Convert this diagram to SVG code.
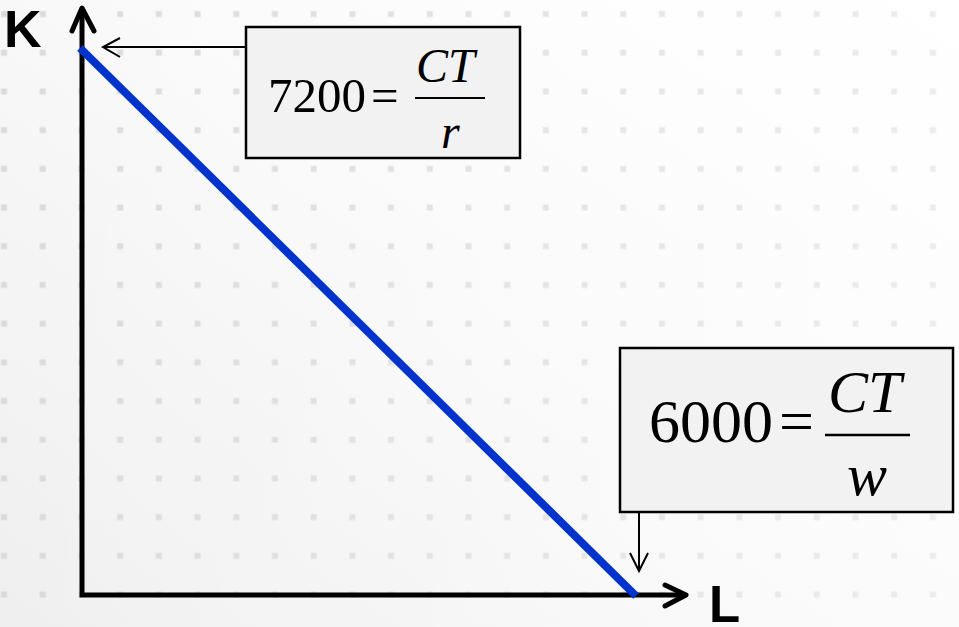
<svg xmlns="http://www.w3.org/2000/svg" width="959" height="627" viewBox="0 0 959 627">
<defs>
<linearGradient id="bg" x1="0" y1="1" x2="1" y2="0">
<stop offset="0" stop-color="#efefef"/>
<stop offset="0.6" stop-color="#fafafa"/>
<stop offset="1" stop-color="#ffffff"/>
</linearGradient>
<linearGradient id="fade" x1="0" y1="0" x2="1" y2="0">
<stop offset="0" stop-color="#ffffff" stop-opacity="0"/>
<stop offset="1" stop-color="#ffffff" stop-opacity="0.5"/>
</linearGradient>
<pattern id="dots" patternUnits="userSpaceOnUse" x="-15.35" y="-5.35" width="38.7" height="38.7">
<rect x="16.4" y="16.4" width="6" height="6" fill="#dadada"/>
</pattern>
<style>
.axis{stroke:#000;stroke-width:5;fill:none;stroke-linecap:butt}
.head{stroke:#000;stroke-width:5;fill:none;stroke-linecap:round;stroke-linejoin:round}
.thin{stroke:#000;stroke-width:2;fill:none}
.box{fill:#f2f2f2;stroke:#000;stroke-width:2.5}
.math{font-family:"Liberation Serif","Times New Roman",serif;fill:#000}
.it{font-style:italic}
.lab{font-family:"Liberation Sans",Arial,sans-serif;font-weight:bold;fill:#000}
</style>
</defs>
<rect width="959" height="627" fill="url(#bg)"/>
<rect width="959" height="627" fill="url(#dots)"/>
<rect width="959" height="627" fill="url(#fade)"/>

<g id="axes">
<path class="axis" d="M82,10 V595 H684"/>
<path class="head" d="M72,31 L82,8 L94,31"/>
<path class="head" d="M665,585 L686,595 L665,606"/>
</g>
<g id="label-K"><text class="lab" x="4" y="47" font-size="52">K</text></g>
<g id="label-L"><text class="lab" x="709" y="622" font-size="51">L</text></g>

<g id="budget-line">
<line x1="80" y1="48" x2="636" y2="596" stroke="#0033cc" stroke-width="8"/>
</g>

<g id="connectors">
<line class="thin" x1="246" y1="47" x2="103" y2="47"/>
<path class="thin" d="M120,38 L103,47 L120,57"/>
<line class="thin" x1="639" y1="512" x2="639" y2="571"/>
<path class="thin" d="M630,553 L639,571 L648,553"/>
</g>

<g id="box-K">
<rect class="box" x="246" y="27" width="274" height="131"/>
<text class="math" x="268" y="112" font-size="49">7200</text>
<text class="math" x="371" y="112" font-size="49">=</text>
<text class="math it" x="416" y="82" font-size="48">CT</text>
<line x1="415" y1="98" x2="485" y2="98" stroke="#000" stroke-width="2"/>
<text class="math it" x="441" y="148" font-size="48">r</text>
</g>

<g id="box-L">
<rect class="box" x="620" y="348" width="333" height="164"/>
<text class="math" x="649" y="442" font-size="62">6000</text>
<text class="math" x="779" y="442" font-size="62">=</text>
<text class="math it" x="828" y="412" font-size="60">CT</text>
<line x1="825" y1="435" x2="910" y2="435" stroke="#000" stroke-width="2.5"/>
<text class="math it" x="847" y="495" font-size="60">w</text>
</g>
</svg>
